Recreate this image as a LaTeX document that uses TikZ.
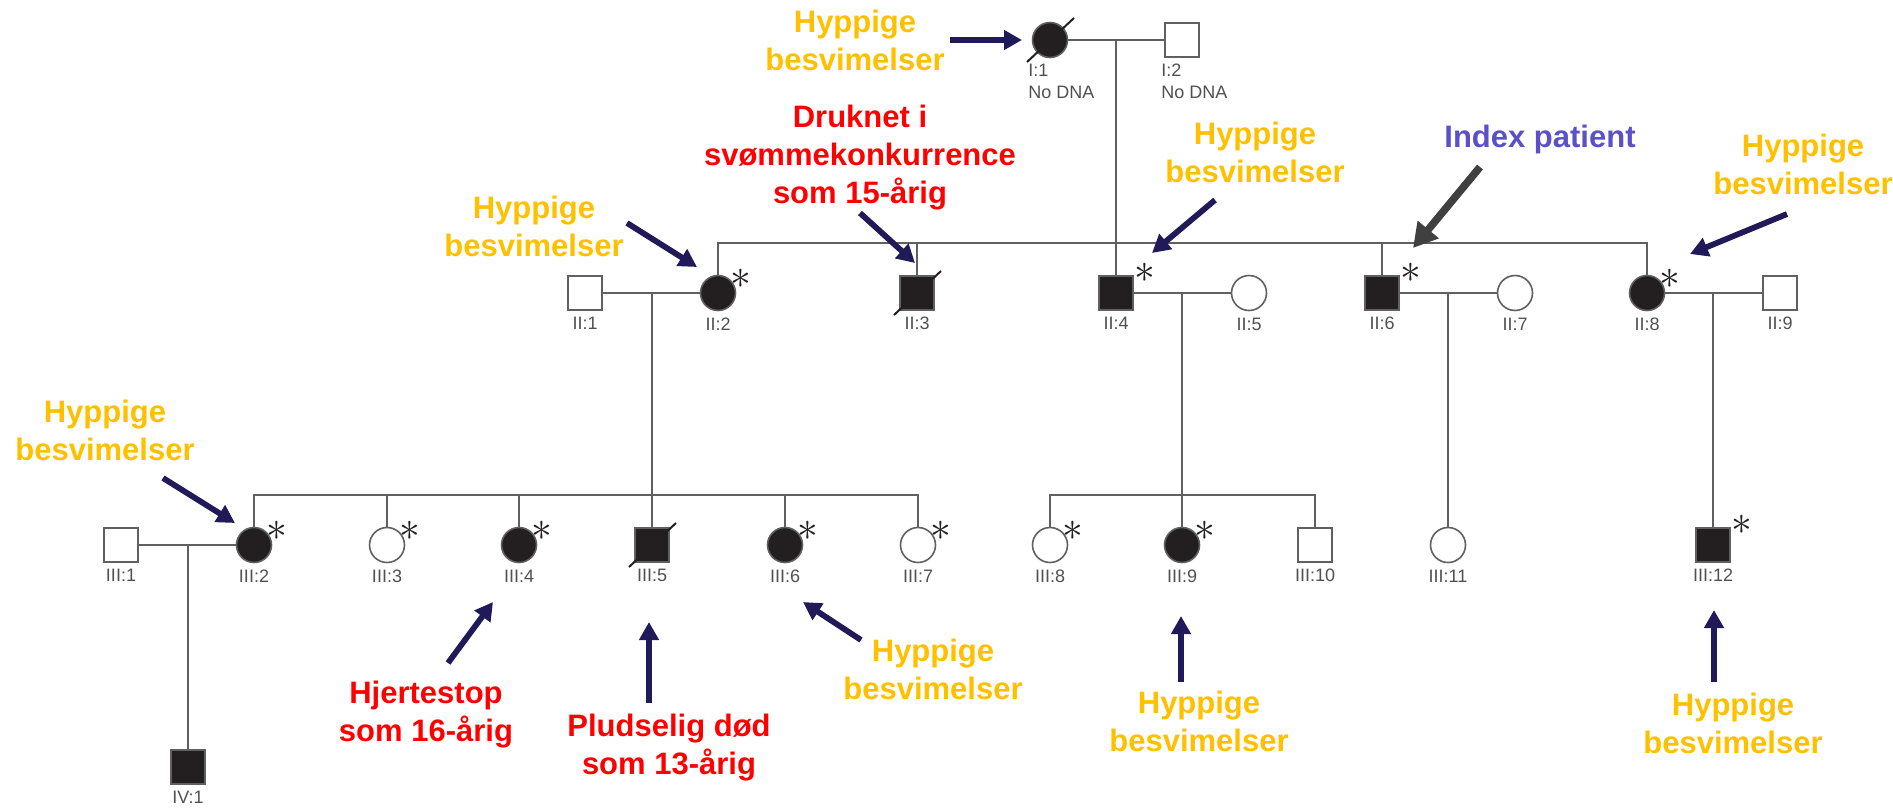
\documentclass[tikz,border=0pt]{standalone}
\usepackage{fontspec}
\setmainfont{Liberation Sans}
\usetikzlibrary{arrows.meta}

\definecolor{linegray}{HTML}{606060}
\definecolor{symfill}{HTML}{231F20}
\definecolor{idgray}{HTML}{505050}
\definecolor{faintgold}{HTML}{FFC000}
\definecolor{deathred}{HTML}{FF0000}
\definecolor{indexblue}{HTML}{5A50C8}
\definecolor{arrownavy}{HTML}{201B58}
\definecolor{arrowgray}{HTML}{404040}

\begin{document}
\begin{tikzpicture}[x=0.5pt,y=-0.5pt,
    link/.style={draw=linegray,line width=1pt},
    male/.style={draw=linegray,line width=0.8pt,fill=white,minimum size=17pt,inner sep=0pt},
    female/.style={male,circle,minimum size=17.5pt},
    aff/.style={fill=symfill},
    idlbl/.style={text=idgray,font=\fontsize{9}{11}\selectfont,inner sep=0pt,label distance=3pt},
    carrier/.style={font=\fontsize{20}{20}\selectfont,text=symfill,inner sep=0pt},
    note/.style={font=\bfseries\fontsize{15.5}{19}\selectfont,align=center,inner sep=0pt},
    faint/.style={note,text=faintgold},
    death/.style={note,text=deathred},
    pointer/.style={draw=arrownavy,line width=2.9pt,-{Triangle[length=9pt,width=9.5pt]}},
    indexptr/.style={draw=arrowgray,line width=3.8pt,-{Triangle[length=12pt,width=13pt]}}]
    \useasboundingbox (0,0) rectangle (1893,809);

    % generation I
    \node[female,aff] (i1) at (1050,40) {};
    \node[male] (i2) at (1182,40) {};
    \node[idlbl,align=left,anchor=north west] (i1id) at (1028,64) {I:1\\No DNA};
    \node[idlbl,align=left,anchor=north west] (i2id) at (1161,64) {I:2\\No DNA};

    % generation II
    \node[male,label={[idlbl]below:{II:1}}] (ii1) at (585,293) {};
    \node[female,aff,label={[idlbl]below:{II:2}}] (ii2) at (718,293) {};
    \node[male,aff,label={[idlbl]below:{II:3}}] (ii3) at (917,293) {};
    \node[male,aff,label={[idlbl]below:{II:4}}] (ii4) at (1116,293) {};
    \node[female,label={[idlbl]below:{II:5}}] (ii5) at (1249,293) {};
    \node[male,aff,label={[idlbl]below:{II:6}}] (ii6) at (1382,293) {};
    \node[female,label={[idlbl]below:{II:7}}] (ii7) at (1515,293) {};
    \node[female,aff,label={[idlbl]below:{II:8}}] (ii8) at (1647,293) {};
    \node[male,label={[idlbl]below:{II:9}}] (ii9) at (1780,293) {};

    % generation III
    \node[male,label={[idlbl]below:{III:1}}] (iii1) at (121,545) {};
    \node[female,aff,label={[idlbl]below:{III:2}}] (iii2) at (254,545) {};
    \node[female,label={[idlbl]below:{III:3}}] (iii3) at (387,545) {};
    \node[female,aff,label={[idlbl]below:{III:4}}] (iii4) at (519,545) {};
    \node[male,aff,label={[idlbl]below:{III:5}}] (iii5) at (652,545) {};
    \node[female,aff,label={[idlbl]below:{III:6}}] (iii6) at (785,545) {};
    \node[female,label={[idlbl]below:{III:7}}] (iii7) at (918,545) {};
    \node[female,label={[idlbl]below:{III:8}}] (iii8) at (1050,545) {};
    \node[female,aff,label={[idlbl]below:{III:9}}] (iii9) at (1182,545) {};
    \node[male,label={[idlbl]below:{III:10}}] (iii10) at (1315,545) {};
    \node[female,label={[idlbl]below:{III:11}}] (iii11) at (1448,545) {};
    \node[male,aff,label={[idlbl]below:{III:12}}] (iii12) at (1713,545) {};

    % generation IV
    \node[male,aff,label={[idlbl]below:{IV:1}}] (iv1) at (188,767) {};

    % matings and sibships
    \coordinate (m0) at (1116,40);
    \coordinate (s0) at (1116,243);
    \draw[link] (i1) -- (i2);
    \draw[link] (m0) -- (ii4);
    \draw[link] (ii2) |- (s0) -| (ii8);
    \draw[link] (ii3) -- (ii3 |- s0);
    \draw[link] (ii6) -- (ii6 |- s0);

    \coordinate (m1) at (652,293);
    \coordinate (s1) at (652,495);
    \draw[link] (ii1) -- (ii2);
    \draw[link] (m1) -- (iii5);
    \draw[link] (iii2) |- (s1) -| (iii7);
    \foreach \n in {iii3,iii4,iii6}
        \draw[link] (\n) -- (\n |- s1);

    \coordinate (m2) at (1182,293);
    \coordinate (s2) at (1182,495);
    \draw[link] (ii4) -- (ii5);
    \draw[link] (m2) -- (iii9);
    \draw[link] (iii8) |- (s2) -| (iii10);

    \coordinate (m3) at (1448,293);
    \draw[link] (ii6) -- (ii7);
    \draw[link] (m3) -- (iii11);

    \coordinate (m4) at (1713,293);
    \draw[link] (ii8) -- (ii9);
    \draw[link] (m4) -- (iii12);

    \coordinate (m5) at (188,545);
    \draw[link] (iii1) -- (iii2);
    \draw[link] (m5) -- (iv1);

    % deceased and tested
    \foreach \n in {i1,ii3,iii5}
        \draw[link,draw=symfill] ([shift={(-23,22)}]\n.center) -- ([shift={(24,-22)}]\n.center);
    \foreach \n in {ii2,ii8,iii2,iii3,iii4,iii6,iii7,iii8,iii9}
        \node[carrier] at ([shift={(23,-14)}]\n.center) {$\ast$};
    \foreach \n in {ii4,ii6,iii12}
        \node[carrier] at ([shift={(29,-20)}]\n.center) {$\ast$};

    % notes
    \node[faint] (hypi1) at (855,40.5) {Hyppige\\besvimelser};
    \node[faint] (hypii2) at (534,226) {Hyppige\\besvimelser};
    \node[death] (drown) at (860,158) {Druknet i\\svømmekonkurrence\\som 15-årig};
    \node[faint] (hypii4) at (1255,152.5) {Hyppige\\besvimelser};
    \node[note,text=indexblue,anchor=base] (index) at (1540,147) {Index patient};
    \node[faint] (hypii8) at (1803,164) {Hyppige\\besvimelser};
    \node[faint] (hypiii2) at (105,430.5) {Hyppige\\besvimelser};
    \node[death] (cardiac) at (426,715) {Hjertestop\\som 16-årig};
    \node[death] (sudden) at (669,748) {Pludselig død\\som 13-årig};
    \node[faint] (hypiii6) at (933,669) {Hyppige\\besvimelser};
    \node[faint] (hypiii9) at (1199,721) {Hyppige\\besvimelser};
    \node[faint] (hypiii12) at (1733,723) {Hyppige\\besvimelser};

    % arrows
    \coordinate (t1) at (950,40);    \coordinate (h1) at (1022,40);
    \coordinate (t2) at (627,223);   \coordinate (h2) at (697,267);
    \coordinate (t3) at (860,213);   \coordinate (h3) at (915,263);
    \coordinate (t4) at (1215,200);  \coordinate (h4) at (1152,253);
    \coordinate (t5) at (1480,167);  \coordinate (h5) at (1413,248);
    \coordinate (t6) at (1787,214);  \coordinate (h6) at (1690,254);
    \coordinate (t7) at (163,478);   \coordinate (h7) at (235,523);
    \coordinate (t8) at (448,663);   \coordinate (h8) at (493,602);
    \coordinate (t9) at (649,703);   \coordinate (h9) at (649,622);
    \coordinate (t10) at (861,640);  \coordinate (h10) at (803,602);
    \coordinate (t11) at (1181,682); \coordinate (h11) at (1181,616);
    \coordinate (t12) at (1714,682); \coordinate (h12) at (1714,610);
    \foreach \k in {1,2,3,4,6,7,8,9,10,11,12}
        \draw[pointer] (t\k) -- (h\k);
    \draw[indexptr] (t5) -- (h5);
\end{tikzpicture}
\end{document}
